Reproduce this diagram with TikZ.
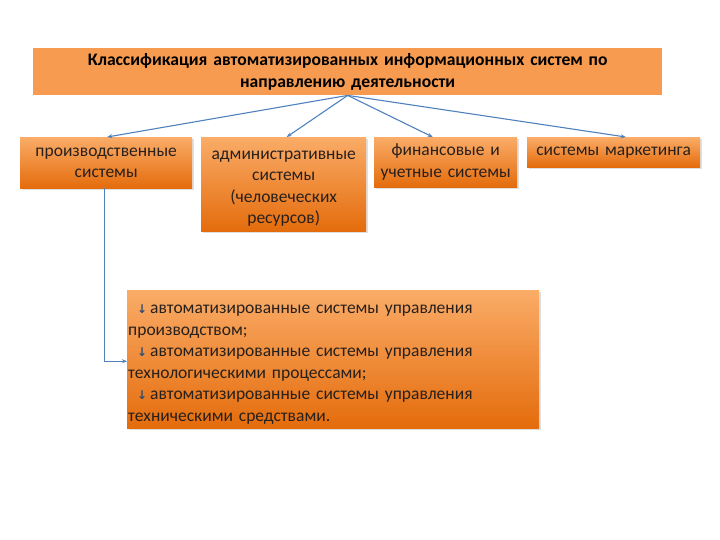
\documentclass[tikz,border=0pt]{standalone}
\usepackage{fontspec}
\setmainfont{Carlito}
\newfontfamily\symfont{DejaVu Sans}
\usetikzlibrary{shadows,arrows.meta}
\definecolor{orL}{RGB}{250,172,104}
\definecolor{orD}{RGB}{228,108,12}
\definecolor{orT}{RGB}{247,155,80}
\definecolor{arr}{RGB}{79,129,189}
\definecolor{txt}{RGB}{40,32,28}
\newcommand{\mybul}{{\symfont\bfseries\fontsize{12}{12}\selectfont\textcolor{arr!60!black}{↓}}}
\begin{document}
\begin{tikzpicture}[x=1pt,y=-1pt,
  catbox/.style={top color=orL,bottom color=orD,draw=none,anchor=north west,
    inner sep=1pt,align=center,text=txt,font=\fontsize{17.5}{21.5}\selectfont,
    drop shadow={shadow xshift=1.5pt,shadow yshift=-1.5pt,opacity=0.25}},
  conn/.style={draw=arr,line width=1.1pt,-{Stealth[length=5pt,width=4pt]}}]
\useasboundingbox (0,0) rectangle (720,540);
\node[fill=orT,anchor=north west,minimum width=629pt,minimum height=47pt,
  text width=625pt,align=center,inner sep=0pt,
  font=\bfseries\fontsize{17.6}{22}\selectfont,text=black] (t) at (33,48)
  {Классификация автоматизированных информационных систем по\\направлению деятельности};
\node[catbox,minimum width=172pt,minimum height=51pt,text width=170pt] (b1) at (20,137)
  {производственные\\системы};
\node[catbox,minimum width=165pt,minimum height=94pt,text width=163pt] (b2) at (201,137)
  {\rule{0pt}{17pt}административные\\системы\\(человеческих\\ресурсов)};
\node[catbox,minimum width=143pt,minimum height=50pt,text width=141pt] (b3) at (374,137)
  {финансовые и\\учетные системы};
\node[catbox,minimum width=173pt,minimum height=30pt,text width=171pt] (b4) at (527,137)
  {системы маркетинга};
\node[catbox,minimum width=412pt,minimum height=138pt,text width=410pt,align=left] (bb) at (127,290)
  {\rule{0pt}{19pt}\hspace*{9pt}\mybul\,автоматизированные системы управления\\
   производством;\\
   \hspace*{9pt}\mybul\,автоматизированные системы управления\\
   технологическими процессами;\\
   \hspace*{9pt}\mybul\,автоматизированные системы управления\\
   техническими средствами.};
\draw[conn] (t.south) -- ([xshift=1pt]b1.north);
\draw[conn] (t.south) -- ([xshift=3pt]b2.north);
\draw[conn] (t.south) -- ([xshift=-13pt]b3.north);
\draw[conn] (t.south) -- ([xshift=12pt]b4.north);
\draw[conn] ([xshift=-2pt]b1.south) |- ([yshift=-2pt]bb.west);
\end{tikzpicture}
\end{document}
